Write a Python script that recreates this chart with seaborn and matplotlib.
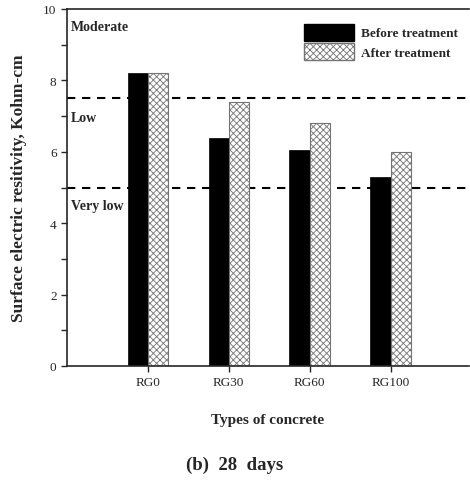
import matplotlib
matplotlib.use("Agg")
import matplotlib.pyplot as plt
import seaborn as sns
import pandas as pd
from matplotlib.patches import Patch

categories = ["RG0", "RG30", "RG60", "RG100"]
before = [8.2, 6.4, 6.05, 5.3]
after = [8.2, 7.4, 6.8, 6.0]
series = ["Before treatment", "After treatment"]
thresholds = [7.5, 5.0]
zone_labels = ["Moderate", "Low", "Very low"]
zone_y = [9.5, 6.95, 4.5]

sns.set_style("ticks")
plt.rcParams["font.family"] = ["Liberation Serif", "DejaVu Serif"]
plt.rcParams["hatch.color"] = "0.35"
plt.rcParams["hatch.linewidth"] = 0.6

df = pd.DataFrame({
    "cat": categories * 2,
    "val": before + after,
    "series": [series[0]] * 4 + [series[1]] * 4,
})

fig = plt.figure(figsize=(4.7, 4.81), dpi=100)
ax = fig.add_axes([67/470, 1 - 367/481, (469-67)/470, (367-10)/481])

sns.barplot(data=df, x="cat", y="val", hue="series", order=categories,
            hue_order=series, palette=["black", "white"], width=0.5,
            saturation=1, ax=ax, legend=False)

n = len(categories)
for i, p in enumerate(ax.patches):
    if i >= n:
        p.set_hatch("xxxxx")
        p.set_edgecolor("0.45")
        p.set_linewidth(0.8)
    else:
        p.set_edgecolor("black")
        p.set_linewidth(0.5)

for t in thresholds:
    ax.axhline(t, color="black", linestyle=(0, (4, 3.2)), linewidth=1.5, zorder=0.5)

for lab, yy in zip(zone_labels, zone_y):
    ax.text(-0.95, yy, lab, fontsize=10, fontweight="bold", ha="left", va="center")

ax.set_xlim(-1, 3.97)
ax.set_ylim(0, 10)
ax.set_yticks([0, 2, 4, 6, 8, 10])
ax.set_yticks([1, 3, 5, 7, 9], minor=True)
ax.tick_params(axis="both", which="major", direction="out", length=4, width=1,
               labelsize=9.5)
ax.tick_params(axis="y", which="minor", direction="out", length=4, width=1)
for s in ["left", "bottom", "top"]:
    ax.spines[s].set_linewidth(1.2)
ax.spines["right"].set_visible(False)
ax.spines["top"].set_visible(True)

ax.set_xlabel("Types of concrete", fontsize=11, fontweight="bold", labelpad=18)
ax.set_ylabel("Surface electric resitivity, Kohm-cm", fontsize=12.5,
              fontweight="bold", labelpad=12)

handles = [Patch(facecolor="black", edgecolor="black"),
           Patch(facecolor="white", edgecolor="0.45", hatch="xxxxx")]
ax.legend(handles, series, loc="upper right", bbox_to_anchor=(0.995, 0.985),
          frameon=False, prop={"weight": "bold", "size": 9.5},
          handlelength=3.8, handleheight=1.6, handletextpad=0.5,
          labelspacing=0.2, borderaxespad=0.3)

fig.text(0.5, 1 - 465/481, "(b)  28  days", ha="center", va="center",
         fontsize=13.5, fontweight="bold")

fig.savefig("out.png", dpi=100)
